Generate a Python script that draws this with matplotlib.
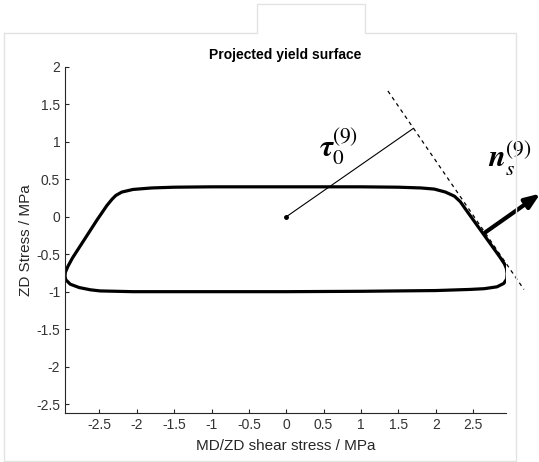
import matplotlib
matplotlib.use('Agg')
import matplotlib.pyplot as plt
from matplotlib.lines import Line2D

plt.rcParams['font.family'] = ['Liberation Sans', 'DejaVu Sans']
plt.rcParams['mathtext.fontset'] = 'stix'

# projected yield surface (MPa)
surf_x = [0.0, 1.0, 1.5, 1.8, 1.98, 2.13, 2.25, 2.33, 2.40, 2.63, 2.86, 2.92,
          2.945, 2.955, 2.95, 2.91, 2.82, 2.65, 2.46, 2.0, 1.0, 0.0,
          -1.0, -2.05, -2.49, -2.62, -2.77, -2.89, -2.95, -2.96, -2.955, -2.92,
          -2.86, -2.53, -2.40, -2.33, -2.28, -2.20, -2.05, -1.8, -1.5, -1.0]
surf_y = [0.40, 0.40, 0.395, 0.385, 0.37, 0.33, 0.275, 0.20, 0.10, -0.22, -0.54, -0.63,
          -0.69, -0.76, -0.83, -0.89, -0.935, -0.96, -0.97, -0.985, -0.995, -1.0,
          -1.0, -1.0, -0.99, -0.975, -0.945, -0.90, -0.84, -0.79, -0.74, -0.66,
          -0.55, -0.04, 0.15, 0.235, 0.285, 0.33, 0.365, 0.385, 0.395, 0.40]

# annotations
tangent_x = [1.36, 3.18]
tangent_y = [1.68, -0.97]
tau_x = [0.0, 1.70]
tau_y = [0.0, 1.18]
normal_start = (2.66, -0.21)
normal_end = (3.40, 0.31)

xticks = [-2.5, -2, -1.5, -1, -0.5, 0, 0.5, 1, 1.5, 2, 2.5]
yticks = [-2.5, -2, -1.5, -1, -0.5, 0, 0.5, 1, 1.5, 2]

W, H = 539, 462
fig = plt.figure(figsize=(W / 100, H / 100), dpi=100)
ax = fig.add_axes([65 / W, 1 - 413 / H, (506 - 65) / W, (413 - 67) / H])

ax.fill(surf_x, surf_y, fill=False, edgecolor='black', lw=2.3, joinstyle='round')
ax.plot(tangent_x, tangent_y, color='black', lw=0.9, ls=(0, (3, 3)), clip_on=False)
ax.plot(tau_x, tau_y, color='black', lw=0.8, clip_on=False)
ax.plot([0], [0], 'o', color='black', ms=2.5)
ax.annotate('', xy=normal_end, xytext=normal_start, annotation_clip=False,
            arrowprops=dict(arrowstyle='-|>,head_length=0.9,head_width=0.35',
                            color='black', lw=3.0, shrinkA=0, shrinkB=0))
ax.text(0.70, 0.93, r'$\mathbfit{\tau}_0^{(9)}$', fontsize=22, ha='center', va='center')
ax.text(2.99, 0.77, r'$\mathbfit{n}_s^{(9)}$', fontsize=22, ha='center', va='center',
        clip_on=False)

ax.set_xlim(-2.96, 2.94)
ax.set_ylim(-2.62, 2.0)
ax.set_xticks(xticks)
ax.set_yticks(yticks)
ax.set_xticklabels([('%g' % t) for t in xticks])
ax.set_yticklabels([('%g' % t) for t in yticks])
for s in ['top', 'right']:
    ax.spines[s].set_visible(False)
for s in ['left', 'bottom']:
    ax.spines[s].set_color('#262626')
    ax.spines[s].set_linewidth(0.8)
ax.tick_params(direction='in', length=3, width=0.8, colors='#262626', labelsize=10,
               labelcolor='#333333')
ax.set_xlabel('MD/ZD shear stress / MPa', fontsize=11, color='#262626', labelpad=5)
ax.set_ylabel('ZD Stress / MPa', fontsize=11, color='#262626', labelpad=2)
ax.set_title('Projected yield surface', fontsize=10, fontweight='bold', pad=6)

# light grey frame around the figure
fx = [4, 257, 257, 365, 365, 516, 516, 4, 4]
fy = [33, 33, 4, 4, 33, 33, 461, 461, 33]
fig.add_artist(Line2D([x / W for x in fx], [1 - y / H for y in fy],
                      transform=fig.transFigure, color='#e3e3e3', lw=1.0))

fig.savefig('out.png', dpi=100)
